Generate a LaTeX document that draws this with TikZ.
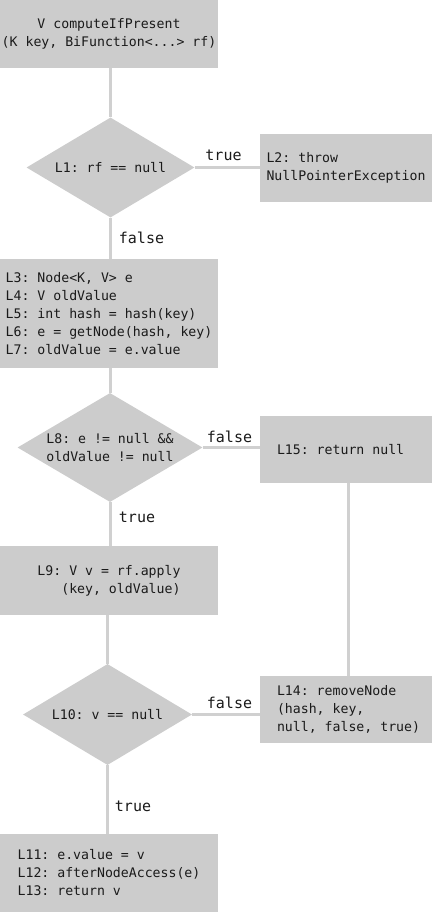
\documentclass[tikz,border=0pt]{standalone}
\usepackage{fontspec}
\setmonofont{DejaVu Sans Mono}
\usetikzlibrary{shapes.geometric}
\definecolor{boxgray}{HTML}{CCCCCC}
\definecolor{linegray}{HTML}{D0D0D0}
\definecolor{txt}{HTML}{1A1A1A}
\tikzset{
  stepbox/.style={rectangle, fill=boxgray, inner sep=0pt, text=txt,
    font=\ttfamily\fontsize{13.2}{18}\selectfont},
  decision/.style={diamond, fill=boxgray, inner sep=0pt, text=txt,
    font=\ttfamily\fontsize{13.2}{18}\selectfont},
  flow/.style={draw=linegray, line width=3pt},
  edgelabel/.style={inner sep=0pt, text=txt, font=\ttfamily\fontsize{15}{18}\selectfont}
}
\begin{document}
\begin{tikzpicture}[x=1pt,y=1pt]
\useasboundingbox (0,0) rectangle (432,-912);
% nodes
\node[stepbox, minimum width=218pt, minimum height=68pt, align=center] (start) at (109,-34)
  {V computeIfPresent\\(K key, BiFunction<...> rf)};
\node[decision, minimum width=168pt, minimum height=100pt, aspect=1.68] (d1) at (110.5,-167.5)
  {L1: rf == null};
\node[stepbox, minimum width=172pt, minimum height=68pt, align=left] (l2) at (346,-168)
  {L2: throw\\NullPointerException};
\node[stepbox, minimum width=218pt, minimum height=109pt, align=left] (l3) at (109,-313.5)
  {L3: Node<K, V> e\\L4: V oldValue\\L5: int hash = hash(key)\\L6: e = getNode(hash, key)\\L7: oldValue = e.value};
\node[decision, minimum width=185pt, minimum height=109pt, aspect=1.7, align=left] (d2) at (110,-447.5)
  {L8: e != null \&\&\\oldValue != null};
\node[stepbox, minimum width=172pt, minimum height=67pt] (l15) at (346,-449.5)
  {\makebox[138pt][l]{L15: return null}};
\node[stepbox, minimum width=218pt, minimum height=69pt, align=left] (l9) at (109,-580.5)
  {L9: V v = rf.apply\\\phantom{xxx}(key, oldValue)};
\node[decision, minimum width=169pt, minimum height=101pt, aspect=1.67] (d3) at (107.5,-714.5)
  {L10: v == null};
\node[stepbox, minimum width=172pt, minimum height=67pt] (l14) at (346,-709.5)
  {\makebox[138pt][l]{\begin{tabular}{@{}l@{}}L14: removeNode\\(hash, key,\\null, false, true)\end{tabular}}};
\node[stepbox, minimum width=218pt, minimum height=78pt, align=left] (l11) at (109,-873)
  {L11: e.value = v\\L12: afterNodeAccess(e)\\L13: return v};
% connectors
\draw[flow] (d1.north |- start.south) -- (d1.north);
\draw[flow] (d1.east) -- (l2.west |- d1.east);
\draw[flow] (d1.south) -- (d1.south |- l3.north);
\draw[flow] (d2.north |- l3.south) -- (d2.north);
\draw[flow] (d2.east) -- (l15.west |- d2.east);
\draw[flow] (d2.south) -- (d2.south |- l9.north);
\draw[flow] ([xshift=2pt]l15.south) -- ([xshift=2pt]l14.north);
\draw[flow] (d3.north |- l9.south) -- (d3.north);
\draw[flow] (d3.east) -- (l14.west |- d3.east);
\draw[flow] (d3.south) -- (d3.south |- l11.north);
% labels
\node[edgelabel] (t1) at (223.5,-155) {true};
\node[edgelabel] (f1) at (141.5,-238) {false};
\node[edgelabel] (f2) at (229.5,-437) {false};
\node[edgelabel] (t2) at (137,-517) {true};
\node[edgelabel] (f3) at (229.5,-703) {false};
\node[edgelabel] (t3) at (133,-806) {true};
\end{tikzpicture}
\end{document}
